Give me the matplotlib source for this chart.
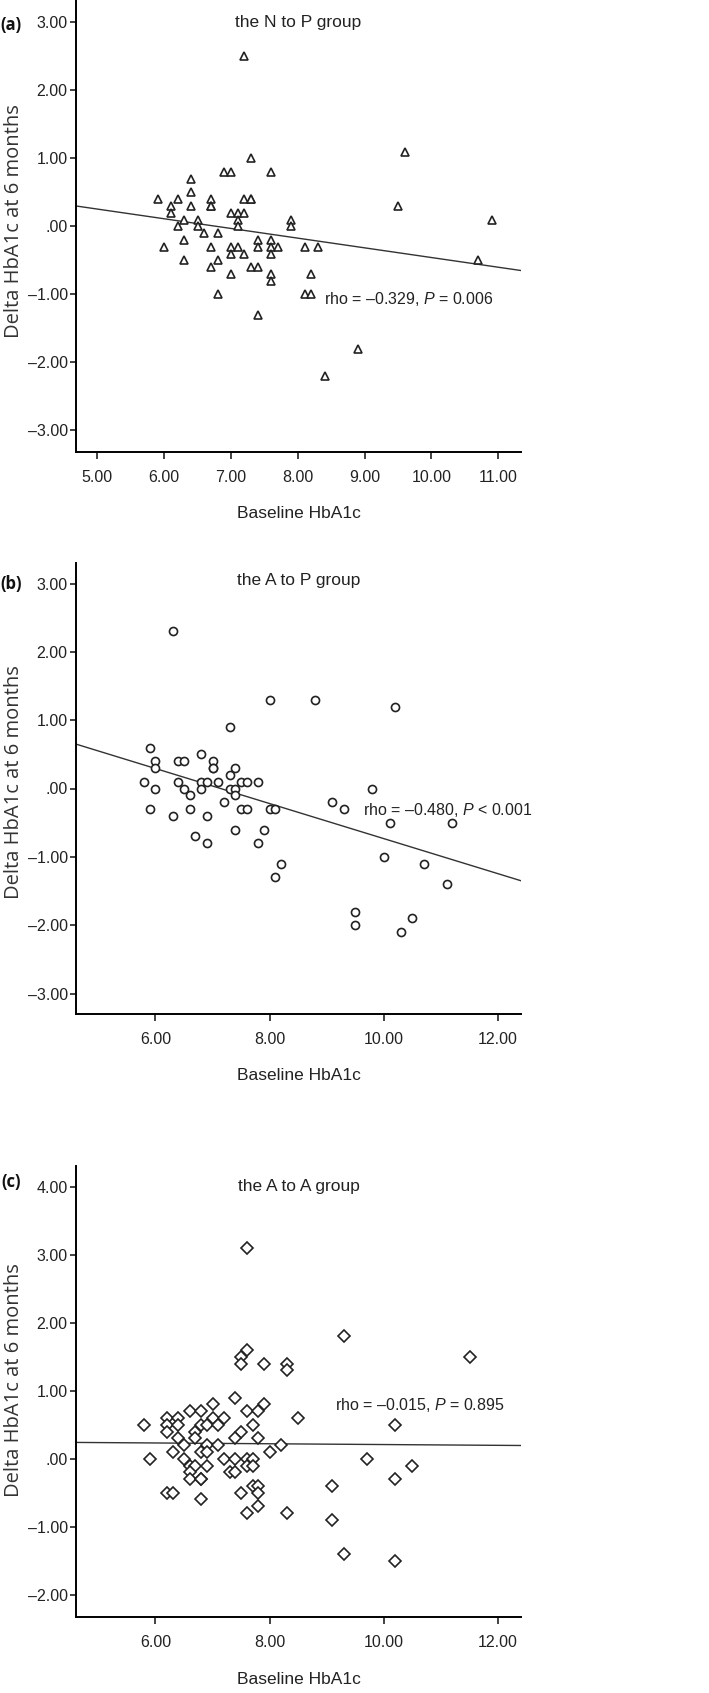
import matplotlib
matplotlib.use("Agg")
import matplotlib.pyplot as plt
from matplotlib.ticker import FuncFormatter, MultipleLocator

NARROW = ["Liberation Sans Narrow", "Liberation Sans", "DejaVu Sans"]
WIDE = ["Open Sans", "Noto Sans", "DejaVu Sans"]
plt.rcParams["font.family"] = NARROW
plt.rcParams["mathtext.fontset"] = "custom"
plt.rcParams["mathtext.rm"] = "Liberation Sans"
plt.rcParams["mathtext.it"] = "Liberation Sans:italic"

# panel (a): the N to P group
a_x = [7.2, 9.6, 7.3, 6.9, 7.0, 7.6, 6.4, 6.4,
       5.9, 6.2, 6.7, 7.2, 7.3, 7.3,
       6.1, 6.4, 6.7, 6.7, 9.5,
       6.1, 7.0, 7.1, 7.2,
       6.3, 6.5, 7.1, 7.9, 10.9,
       6.2, 6.5, 7.1, 7.9,
       6.6, 6.8,
       6.3, 7.4, 7.6,
       6.0, 6.7, 7.0, 7.1, 7.4, 7.6, 7.7, 8.1, 8.3,
       7.0, 7.2, 7.6,
       6.3, 6.8, 10.7,
       6.7, 7.3, 7.4,
       7.0, 7.6, 8.2,
       7.6,
       6.8, 8.1, 8.2,
       7.4, 8.9, 8.4]
a_y = [2.5, 1.1, 1.0, 0.8, 0.8, 0.8, 0.7, 0.5,
       0.4, 0.4, 0.4, 0.4, 0.4, 0.4,
       0.3, 0.3, 0.3, 0.3, 0.3,
       0.2, 0.2, 0.2, 0.2,
       0.1, 0.1, 0.1, 0.1, 0.1,
       0.0, 0.0, 0.0, 0.0,
       -0.1, -0.1,
       -0.2, -0.2, -0.2,
       -0.3, -0.3, -0.3, -0.3, -0.3, -0.3, -0.3, -0.3, -0.3,
       -0.4, -0.4, -0.4,
       -0.5, -0.5, -0.5,
       -0.6, -0.6, -0.6,
       -0.7, -0.7, -0.7,
       -0.8,
       -1.0, -1.0, -1.0,
       -1.3, -1.8, -2.2]

# panel (b): the A to P group
b_x = [6.3, 8.0, 8.8, 10.2, 7.3, 5.9, 6.8,
       6.0, 6.4, 6.5, 7.0,
       6.0, 7.0, 7.0, 7.4,
       7.3,
       5.8, 6.4, 6.8, 6.9, 7.1, 7.5, 7.6, 7.8,
       6.0, 6.5, 6.8, 7.3, 7.4, 9.8,
       6.6, 7.4,
       7.2, 9.1,
       5.9, 6.6, 7.5, 7.6, 8.0, 8.1, 9.3,
       6.3, 6.9,
       10.1, 11.2,
       7.4, 7.9,
       6.7,
       6.9, 7.8,
       10.0, 8.2, 10.7, 8.1, 11.1, 9.5, 9.5, 10.5, 10.3]
b_y = [2.3, 1.3, 1.3, 1.2, 0.9, 0.6, 0.5,
       0.4, 0.4, 0.4, 0.4,
       0.3, 0.3, 0.3, 0.3,
       0.2,
       0.1, 0.1, 0.1, 0.1, 0.1, 0.1, 0.1, 0.1,
       0.0, 0.0, 0.0, 0.0, 0.0, 0.0,
       -0.1, -0.1,
       -0.2, -0.2,
       -0.3, -0.3, -0.3, -0.3, -0.3, -0.3, -0.3,
       -0.4, -0.4,
       -0.5, -0.5,
       -0.6, -0.6,
       -0.7,
       -0.8, -0.8,
       -1.0, -1.1, -1.1, -1.3, -1.4, -1.8, -2.0, -1.9, -2.1]

# panel (c): the A to A group
c_x = [7.6, 9.3, 11.5, 7.6, 7.5, 7.5, 7.9, 8.3, 8.3,
       7.4, 7.0, 7.9,
       6.6, 6.8, 7.6, 7.8,
       6.2, 6.4, 7.0, 7.2, 8.5,
       5.8, 6.2, 6.4, 6.8, 6.9, 7.1, 7.7, 10.2,
       6.2, 6.7, 7.5,
       6.4, 6.7, 7.4, 7.8,
       6.5, 6.9, 7.1, 8.2,
       6.3, 6.8, 6.9, 8.0,
       5.9, 6.5, 7.2, 7.4, 7.6, 7.7, 9.7,
       6.6, 6.7, 6.9, 7.6, 7.7, 10.5,
       6.6, 7.3, 7.4,
       6.6, 6.8, 6.8, 10.2,
       9.1, 7.7, 7.8,
       6.2, 6.3, 7.5, 7.8,
       6.8, 7.8, 7.6, 8.3, 9.1, 9.3, 10.2]
c_y = [3.1, 1.8, 1.5, 1.6, 1.5, 1.4, 1.4, 1.4, 1.3,
       0.9, 0.8, 0.8,
       0.7, 0.7, 0.7, 0.7,
       0.6, 0.6, 0.6, 0.6, 0.6,
       0.5, 0.5, 0.5, 0.5, 0.5, 0.5, 0.5, 0.5,
       0.4, 0.4, 0.4,
       0.3, 0.3, 0.3, 0.3,
       0.2, 0.2, 0.2, 0.2,
       0.1, 0.1, 0.1, 0.1,
       0.0, 0.0, 0.0, 0.0, 0.0, 0.0, 0.0,
       -0.1, -0.1, -0.1, -0.1, -0.1, -0.1,
       -0.2, -0.2, -0.2,
       -0.3, -0.3, -0.3, -0.3,
       -0.4, -0.4, -0.4,
       -0.5, -0.5, -0.5, -0.5,
       -0.6, -0.7, -0.8, -0.8, -0.9, -1.4, -1.5]

# fitted lines (intercept, slope)
a_fit = (0.967, -0.1426)
b_fit = (1.833, -0.2567)
c_fit = (0.267, -0.0058)

titles = ["the N to P group", "the A to P group", "the A to A group"]
labels = ["(a)", "(b)", "(c)"]
stats = ["rho = \u20130.329, $P$ = 0.006",
         "rho = \u20130.480, $P$ < 0.001",
         "rho = \u20130.015, $P$ = 0.895"]


def fmt(v, pos):
    s = f"{v:.2f}"
    if s in ("0.00", "-0.00"):
        return ".00"
    return s.replace("-", "\u2013")


W, H = 709, 1693
fig = plt.figure(figsize=(W / 100, H / 100), dpi=100)
renderer = fig.canvas.get_renderer()


def fit_size(t, target, vertical=False):
    # scale the font so the text spans about `target` pixels
    bb = t.get_window_extent(renderer)
    cur = bb.height if vertical else bb.width
    t.set_fontsize(t.get_fontsize() * target / cur)


# axes boxes in pixels: (top, bottom)
boxes = [(0, 452), (563, 1014), (1166, 1617)]
left_px, right_px = 76, 521
xlims = [(4.68, 11.34), (4.61, 12.40), (4.61, 12.40)]
ylims = [(-3.32, 3.33), (-3.30, 3.30), (-2.33, 4.31)]
xsteps = [1, 2, 2]
markers = [("^", 5.6), ("o", 5.8), ("D", 6.2)]
text_pos = [(8.39, -1.07), (9.64, -0.32), (9.14, 0.79)]
title_y = [23, 18, 20]
label_y = [25, 584, 1182]
ylab_y = [221, 782, 1380]
xlab_d = [61, 62, 63]

data = [(a_x, a_y, a_fit), (b_x, b_y, b_fit), (c_x, c_y, c_fit)]

for i, (xs, ys, fit) in enumerate(data):
    top, bot = boxes[i]
    ax = fig.add_axes([left_px / W, 1 - bot / H, (right_px - left_px) / W, (bot - top) / H])
    ax.set_xlim(*xlims[i])
    ax.set_ylim(*ylims[i])
    m, ms = markers[i]
    ax.plot(xs, ys, linestyle="none", marker=m, markersize=ms, markerfacecolor="white",
            markeredgecolor="#222222", markeredgewidth=1.2, zorder=3)
    x0, x1 = xlims[i]
    ax.plot([x0, x1], [fit[0] + fit[1] * x0, fit[0] + fit[1] * x1], color="#333333",
            linewidth=1.0, zorder=2)

    for s in ["top", "right"]:
        ax.spines[s].set_visible(False)
    for s in ["left", "bottom"]:
        ax.spines[s].set_linewidth(1.4)
    ax.xaxis.set_major_locator(MultipleLocator(xsteps[i]))
    ax.yaxis.set_major_locator(MultipleLocator(1))
    ax.xaxis.set_major_formatter(FuncFormatter(fmt))
    ax.yaxis.set_major_formatter(FuncFormatter(fmt))
    ax.tick_params(axis="x", direction="out", length=5, width=1.2, pad=8, labelsize=11.5,
                   colors="#222222")
    ax.tick_params(axis="y", direction="out", length=4, width=1.2, pad=2, labelsize=11.5,
                   colors="#222222")

    h = bot - top
    ax.text(0.5, 1 - title_y[i] / h, titles[i], transform=ax.transAxes, ha="center",
            va="center", fontsize=12.5, color="#222222")
    tx, ty = text_pos[i]
    ax.text(tx, ty, stats[i], ha="left", va="center", fontsize=11.5, color="#222222")

    ax.set_xlabel("Baseline HbA1c", fontsize=12.5, color="#222222")
    ax.xaxis.label.set_va("center")
    ax.xaxis.set_label_coords(0.5, -xlab_d[i] / h)

    t = fig.text(14.5 / W, 1 - ylab_y[i] / H, "Delta HbA1c at 6 months", rotation=90,
                 ha="center", va="center", fontsize=12, family=WIDE, color="#333333")
    fit_size(t, 232, vertical=True)
    fig.text(11 / W, 1 - label_y[i] / H, labels[i], ha="center", va="center",
             fontsize=12, fontweight="bold", family=WIDE, color="#111111")

fig.savefig("out.png", dpi=100)
